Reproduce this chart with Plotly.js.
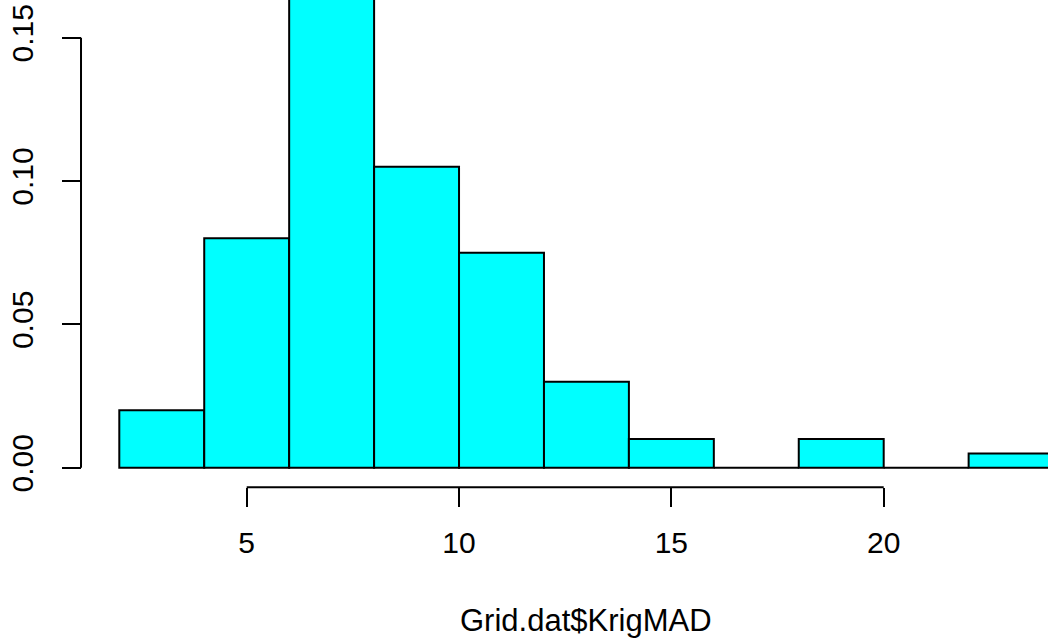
<!DOCTYPE html>
<html>
<head>
<meta charset="utf-8">
<script src="https://cdn.plot.ly/plotly-3.0.1.min.js"></script>
<style>
  html, body { margin: 0; padding: 0; background: #ffffff; }
  #chart { width: 1048px; height: 640px; }
</style>
</head>
<body>
<div id="chart"></div>
<script>
// Histogram of Grid.dat$KrigMAD (density scale)
const breaks = [2, 4, 6, 8, 10, 12, 14, 16, 18, 20, 22, 24];
const density = [0.02, 0.08, 0.165, 0.105, 0.075, 0.03, 0.01, 0.0, 0.01, 0.0, 0.005];
const xTicks = [5, 10, 15, 20];
const yTicks = [0.00, 0.05, 0.10, 0.15];
const yTickText = ["0.00", "0.05", "0.10", "0.15"];
const xLabel = "Grid.dat$KrigMAD";

const centers = density.map((_, i) => (breaks[i] + breaks[i + 1]) / 2);
const widths = density.map((_, i) => breaks[i + 1] - breaks[i]);

const FONT = "Liberation Sans, Arial, Helvetica, sans-serif";
const xAxisPos = 0.2386;   // paper fraction of the detached x axis line
const yAxisPos = 0.0773;   // paper fraction of the detached y axis line

const trace = {
  type: "bar",
  x: centers,
  y: density,
  width: widths,
  marker: { color: "#00FFFF", line: { color: "#000000", width: 2 } },
  hoverinfo: "skip"
};

const layout = {
  width: 1048,
  height: 640,
  margin: { l: 0, r: 0, t: 0, b: 0, pad: 0 },
  paper_bgcolor: "#ffffff",
  plot_bgcolor: "#ffffff",
  showlegend: false,
  bargap: 0,
  font: { family: FONT, size: 30, color: "#000000" },
  xaxis: {
    range: [-0.8093, 23.869],
    anchor: "free",
    position: xAxisPos,
    showgrid: false,
    zeroline: false,
    showline: false,
    ticks: "outside",
    ticklen: 19,
    tickwidth: 2,
    tickcolor: "#000000",
    tickmode: "array",
    tickvals: xTicks,
    ticktext: xTicks.map(String),
    ticklabelstandoff: 10,
    tickfont: { family: FONT, size: 30, color: "#000000" }
  },
  yaxis: {
    range: [-0.0601, 0.16315],
    anchor: "free",
    position: yAxisPos,
    showgrid: false,
    zeroline: false,
    showline: false,
    ticks: "outside",
    ticklen: 19,
    tickwidth: 2,
    tickcolor: "#000000",
    tickmode: "array",
    tickvals: yTicks,
    ticktext: yTickText,
    tickangle: -90,
    ticklabelstandoff: 17,
    tickfont: { family: FONT, size: 30, color: "#000000" }
  },
  shapes: [
    {
      type: "line", xref: "x", yref: "paper",
      x0: xTicks[0], x1: xTicks[xTicks.length - 1], y0: xAxisPos, y1: xAxisPos,
      line: { color: "#000000", width: 2 }
    },
    {
      type: "line", xref: "paper", yref: "y",
      x0: yAxisPos, x1: yAxisPos, y0: yTicks[0], y1: yTicks[yTicks.length - 1],
      line: { color: "#000000", width: 2 }
    }
  ],
  annotations: [
    {
      text: xLabel,
      xref: "x", yref: "paper",
      x: (breaks[0] + breaks[breaks.length - 1]) / 2,
      y: 0.0,
      xanchor: "center", yanchor: "bottom",
      showarrow: false,
      font: { family: FONT, size: 31, color: "#000000" }
    }
  ]
};

Plotly.newPlot("chart", [trace], layout, { staticPlot: true, displayModeBar: false });
</script>
</body>
</html>
